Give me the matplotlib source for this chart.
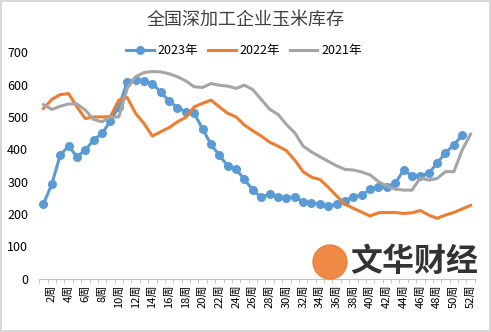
import numpy as np
import matplotlib.pyplot as plt
from matplotlib.patches import Circle
from matplotlib.transforms import IdentityTransform

plt.rcParams['font.family'] = ['Noto Sans CJK SC', 'DejaVu Sans']

# weekly corn stock of deep-processing firms
weeks = np.arange(1, 53)
week_labels = [f'{w}周' for w in weeks]

y2023 = [231, 293, 382, 410, 377, 398, 429, 449, 488, 531,
         608, 615, 612, 603, 576, 550, 528, 516, 511, 463,
         415, 382, 348, 338, 307, 274, 252, 262, 254, 249,
         254, 238, 235, 231, 225, 231, 241, 254, 258, 277,
         285, 285, 295, 336, 319, 319, 326, 357, 390, 413,
         444]
y2022 = [526, 554, 569, 572, 531, 495, 500, 500, 501, 552,
         560, 511, 480, 441, 454, 467, 485, 499, 531, 542,
         552, 531, 511, 500, 475, 457, 441, 422, 410, 396,
         367, 331, 314, 307, 283, 256, 231, 218, 206, 194,
         204, 205, 205, 202, 204, 211, 197, 187, 197, 205,
         216, 227]
y2021 = [538, 523, 533, 540, 540, 521, 492, 485, 500, 500,
         588, 624, 637, 640, 639, 633, 624, 611, 593, 591,
         603, 598, 595, 588, 598, 584, 554, 524, 508, 477,
         451, 410, 392, 377, 363, 349, 338, 336, 330, 321,
         300, 287, 277, 274, 274, 312, 305, 310, 331, 331,
         398, 447]

fig = plt.figure(figsize=(4.91, 3.32), dpi=100)
fig.patch.set_edgecolor('#d9d9d9')
fig.patch.set_linewidth(1.5)
ax = fig.add_axes([0.080, 0.160, 0.887, 0.683])

ax.plot(weeks[:len(y2023)], y2023, color='#5B9BD5', lw=2.2, marker='o',
        ms=5.5, label='2023年')
ax.plot(weeks, y2022, color='#ED7D31', lw=2.2, label='2022年')
ax.plot(weeks, y2021, color='#A5A5A5', lw=2.2, label='2021年')

ax.set_xlim(0.5, 52.5)
ax.set_ylim(0, 700)
ax.set_yticks(range(0, 701, 100))
ax.tick_params(axis='y', length=0, pad=8, labelsize=9)
ax.set_xticks(weeks[1::2])
ax.set_xticklabels(week_labels[1::2], rotation=90, fontsize=8)
ax.set_xticks(np.arange(0.5, 53, 1), minor=True)
ax.tick_params(axis='x', which='major', length=0, pad=4)
ax.tick_params(axis='x', which='minor', length=3, color='#bfbfbf')
for s in ['top', 'right', 'left']:
    ax.spines[s].set_visible(False)
ax.spines['bottom'].set_color('#bfbfbf')

fig.text(0.5, 0.94, '全国深加工企业玉米库存', ha='center', va='center',
         fontsize=13, color='#404040')
ax.legend(loc='center', bbox_to_anchor=(0.47, 1.005), ncol=3, frameon=False,
          fontsize=9, handlelength=2.2, columnspacing=0.8, handletextpad=0.3)

# watermark
fig.patches.append(Circle((330, 332 - 262), 17, transform=IdentityTransform(),
                          color='#ED7D31', alpha=0.9))
fig.text(350 / 491, 1 - 262 / 332, '文华财经', ha='left', va='center',
         fontsize=23, fontweight='bold', color='#333333')

fig.savefig('out.png', dpi=100)
